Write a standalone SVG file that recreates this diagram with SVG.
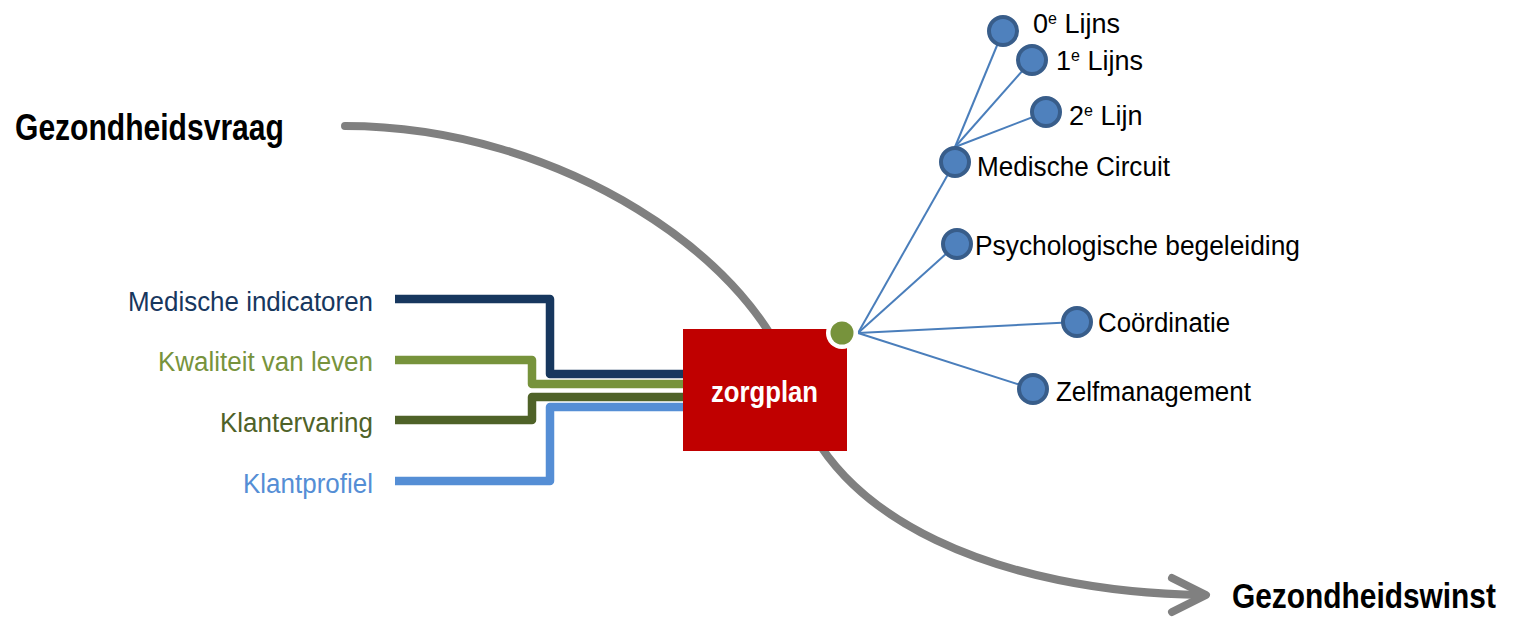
<svg xmlns="http://www.w3.org/2000/svg" width="1514" height="617" viewBox="0 0 1514 617">
<defs>
<style>
.t{font-family:"Liberation Sans",Arial,sans-serif;font-size:27px;fill:#000}
.h{font-family:"Liberation Sans",Arial,sans-serif;font-size:36px;font-weight:bold;fill:#000}
.sup{font-size:16px}
.node circle{fill:#4f81bd;stroke:#385d8a;stroke-width:4}
.spoke{stroke:#4a7ebb;stroke-width:2;fill:none}
.feed{fill:none;stroke-width:8.5;stroke-linejoin:round}
.flow{fill:none;stroke:#808080;stroke-width:8;stroke-linecap:round;stroke-linejoin:round}
</style>
</defs>
<rect width="1514" height="617" fill="#fff"/>

<g id="connectors">
<path class="flow" d="M345,126 C560,126 760,260 795,390 C830,520 1000,592 1203,595"/>
<polyline class="flow" points="1172,578 1206,595 1172,612"/>
<path class="feed" stroke="#17375e" d="M395,299 H550 V374 H683"/>
<path class="feed" stroke="#77933c" d="M395,360 H532 V384 H683"/>
<path class="feed" stroke="#4f6228" d="M395,420 H532 V397 H683"/>
<path class="feed" stroke="#558ed5" d="M395,481 H550 V407 H683"/>
<line class="spoke" x1="858" y1="333" x2="955" y2="162"/>
<line class="spoke" x1="858" y1="333" x2="957" y2="244"/>
<line class="spoke" x1="858" y1="333" x2="1077" y2="322"/>
<line class="spoke" x1="858" y1="333" x2="1033" y2="389"/>
<line class="spoke" x1="955" y1="147" x2="1003" y2="31"/>
<line class="spoke" x1="955" y1="147" x2="1032" y2="60"/>
<line class="spoke" x1="955" y1="147" x2="1046" y2="112"/>
</g>

<g id="gezondheidsvraag">
<text class="h" transform="translate(15,140) scale(0.835,1)" x="0" y="0">Gezondheidsvraag</text>
</g>
<g id="gezondheidswinst">
<text class="h" transform="translate(1232,608) scale(0.83,1)" x="0" y="0">Gezondheidswinst</text>
</g>

<g id="medische-indicatoren">
<text class="t" x="373" y="311" text-anchor="end" style="fill:#17375e" textLength="245" lengthAdjust="spacingAndGlyphs">Medische indicatoren</text>
</g>
<g id="kwaliteit-van-leven">
<text class="t" x="373" y="371" text-anchor="end" style="fill:#77933c" textLength="215" lengthAdjust="spacingAndGlyphs">Kwaliteit van leven</text>
</g>
<g id="klantervaring">
<text class="t" x="373" y="432" text-anchor="end" style="fill:#4f6228" textLength="153" lengthAdjust="spacingAndGlyphs">Klantervaring</text>
</g>
<g id="klantprofiel">
<text class="t" x="373" y="493" text-anchor="end" style="fill:#558ed5" textLength="130" lengthAdjust="spacingAndGlyphs">Klantprofiel</text>
</g>

<g id="zorgplan">
<rect x="683" y="329" width="164" height="122" fill="#c00000"/>
<text x="711" y="402" font-family="Liberation Sans, Arial, sans-serif" font-size="29" font-weight="bold" fill="#fff" textLength="107" lengthAdjust="spacingAndGlyphs">zorgplan</text>
<circle cx="842" cy="333" r="16" fill="#fff"/>
<circle cx="842" cy="333" r="11.5" fill="#77933c"/>
</g>

<g id="lijn0" class="node">
<circle cx="1003" cy="31" r="14"/>
<text class="t" x="1033" y="33">0<tspan class="sup" dy="-9">e</tspan><tspan dy="9"> Lijns</tspan></text>
</g>
<g id="lijn1" class="node">
<circle cx="1032" cy="60" r="14"/>
<text class="t" x="1056" y="70">1<tspan class="sup" dy="-9">e</tspan><tspan dy="9"> Lijns</tspan></text>
</g>
<g id="lijn2" class="node">
<circle cx="1046" cy="112" r="14"/>
<text class="t" x="1069" y="125">2<tspan class="sup" dy="-9">e</tspan><tspan dy="9"> Lijn</tspan></text>
</g>
<g id="medische-circuit" class="node">
<circle cx="955" cy="162" r="14"/>
<text class="t" x="977" y="176" textLength="193" lengthAdjust="spacingAndGlyphs">Medische Circuit</text>
</g>
<g id="psychologische-begeleiding" class="node">
<circle cx="957" cy="244" r="14"/>
<text class="t" x="975" y="255" textLength="325" lengthAdjust="spacingAndGlyphs">Psychologische begeleiding</text>
</g>
<g id="coordinatie" class="node">
<circle cx="1077" cy="322" r="14"/>
<text class="t" x="1098" y="332" textLength="132" lengthAdjust="spacingAndGlyphs">Coördinatie</text>
</g>
<g id="zelfmanagement" class="node">
<circle cx="1033" cy="389" r="14"/>
<text class="t" x="1056" y="401" textLength="195" lengthAdjust="spacingAndGlyphs">Zelfmanagement</text>
</g>
</svg>
